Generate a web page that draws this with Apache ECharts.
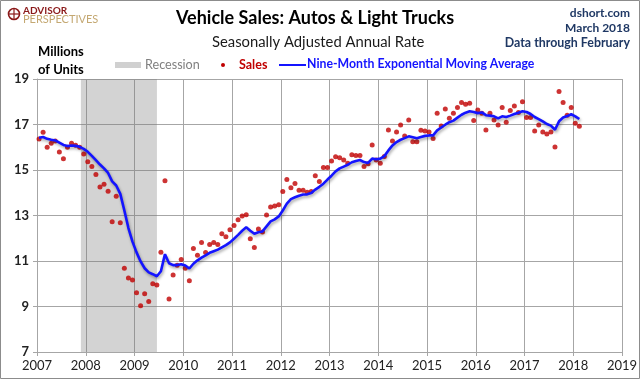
<!DOCTYPE html>
<html><head><meta charset="utf-8">
<script src="https://cdn.jsdelivr.net/npm/echarts@6/dist/echarts.min.js"></script>
<style>html,body{margin:0;padding:0;background:#fff}#c{width:640px;height:379px}</style>
</head><body><div id="c"></div>
<script>
// ---- data (monthly, Jan 2007 .. Feb 2018), millions of units SAAR ----
const startYear = 2007;
const xTicks = [2007, 2008, 2009, 2010, 2011, 2012, 2013, 2014, 2015, 2016, 2017, 2018, 2019];
const yTicks = [7, 9, 11, 13, 15, 17, 19];
const recession = [2007.9, 2009.46];

const sales = [
  16.36, 16.66, 16.0, 16.18, 16.28, 15.79, 15.5, 16.0, 16.18, 16.09, 16.0, 15.7,
  15.36, 15.15, 14.8, 14.25, 14.37, 14.07, 12.72, 13.85, 12.68, 10.68, 10.25, 10.16,
  9.6, 9.03, 9.56, 9.22, 10.0, 9.94, 11.38, 14.53, 9.33, 10.38, 10.81, 11.07,
  10.68, 10.13, 11.55, 11.25, 11.81, 11.37, 11.72, 11.81, 11.72, 12.2, 12.07, 12.37,
  12.56, 12.81, 12.98, 13.03, 11.98, 11.59, 12.41, 12.28, 13.02, 13.37, 13.42, 13.47,
  14.06, 14.58, 14.22, 14.41, 14.11, 14.11, 14.02, 14.06, 14.75, 14.5, 15.11, 15.11,
  15.4, 15.58, 15.54, 15.44, 15.3, 15.67, 15.64, 15.64, 15.15, 15.28, 16.1, 15.44,
  15.3, 15.59, 16.76, 16.28, 16.67, 16.98, 16.5, 17.2, 16.24, 16.24, 16.75, 16.71,
  16.67, 16.38, 17.49, 16.93, 17.68, 17.28, 17.49, 17.75, 17.97, 17.89, 17.93, 17.18,
  17.64, 17.49, 16.76, 17.49, 17.2, 16.98, 17.75, 17.1, 17.62, 17.81, 17.53, 18.0,
  17.31, 17.31, 16.71, 16.98, 16.67, 16.58, 16.67, 16.01, 18.45, 17.97, 17.41, 17.75,
  17.05, 16.92
];

const ema = [
  16.42, 16.45, 16.37, 16.33, 16.30, 16.2, 16.1, 16.05, 16.08, 16.06, 16.02, 15.93,
  15.8, 15.62, 15.43, 15.24, 15.07, 14.87, 14.5, 14.32, 13.95, 13.22, 12.45, 11.85,
  11.38, 10.98, 10.68, 10.5, 10.42, 10.33, 10.55, 11.3, 10.9, 10.82, 10.82, 10.86,
  10.8, 10.67, 10.88, 11.03, 11.15, 11.25, 11.36, 11.43, 11.5, 11.6, 11.7, 11.82,
  11.98, 12.15, 12.33, 12.48, 12.33, 12.2, 12.26, 12.3, 12.52, 12.74, 12.83, 12.96,
  13.22, 13.52, 13.72, 13.8, 13.87, 13.92, 13.93, 13.99, 14.14, 14.26, 14.4, 14.58,
  14.75, 14.94, 15.07, 15.15, 15.23, 15.34, 15.4, 15.44, 15.35, 15.31, 15.5, 15.47,
  15.5, 15.61, 15.86, 16.08, 16.23, 16.33, 16.4, 16.48, 16.44, 16.4, 16.45, 16.5,
  16.52, 16.52, 16.74, 16.87, 16.99, 17.1, 17.17, 17.3, 17.43, 17.52, 17.58, 17.55,
  17.5, 17.53, 17.41, 17.39, 17.36, 17.27, 17.36, 17.33, 17.39, 17.46, 17.52, 17.58,
  17.55, 17.46, 17.33, 17.24, 17.14, 17.02, 16.95, 16.77, 17.14, 17.31, 17.37, 17.45,
  17.36, 17.24
];

// month i plotted at mid-month on a fractional-year axis
const monthPos = i => startYear + (i + 0.5) / 12;
const salesData = sales.map((v, i) => [monthPos(i), v]);
const emaData = ema.map((v, i) => [monthPos(i), v]);

const FONT = 'Lato';
const gridColor = '#a6a6a6';

const chart = echarts.init(document.getElementById('c'), null, {renderer: 'canvas'});
chart.setOption({
  backgroundColor: '#ffffff',
  animation: false,
  grid: {left: 37, right: 18, top: 79, bottom: 27, containLabel: false, outerBoundsMode: 'none'},
  xAxis: {
    type: 'value', min: xTicks[0], max: xTicks[xTicks.length - 1], interval: 1,
    axisLine: {show: true, lineStyle: {color: gridColor, width: 1}},
    axisTick: {show: true, length: 4, lineStyle: {color: gridColor}},
    splitLine: {show: true, lineStyle: {color: gridColor, width: 1}},
    axisLabel: {formatter: v => String(v), color: '#222', fontSize: 13, fontFamily: FONT, margin: 7}
  },
  yAxis: {
    type: 'value', min: yTicks[0], max: yTicks[yTicks.length - 1], interval: 2,
    axisLine: {show: true, lineStyle: {color: gridColor, width: 1}},
    axisTick: {show: true, length: 4, lineStyle: {color: gridColor}},
    splitLine: {show: true, lineStyle: {color: gridColor, width: 1}},
    axisLabel: {color: '#222', fontSize: 13, fontWeight: 'bold', fontFamily: FONT, margin: 8}
  },
  series: [
    {
      name: 'Recession', type: 'line', data: [], silent: true,
      markArea: {
        silent: true,
        itemStyle: {color: 'rgba(120,120,120,0.33)'},
        data: [[{xAxis: recession[0]}, {xAxis: recession[1]}]]
      }
    },
    {
      name: 'Sales', type: 'scatter', data: salesData, symbol: 'circle', symbolSize: 5,
      itemStyle: {color: '#c00000'}, z: 3
    },
    {
      name: 'Nine-Month Exponential Moving Average', type: 'line', data: emaData,
      showSymbol: false, smooth: false, z: 4,
      lineStyle: {color: '#1414ff', width: 2.6, shadowColor: 'rgba(0,0,0,0.35)', shadowBlur: 3, shadowOffsetY: 2, shadowOffsetX: 1}
    }
  ],
  graphic: [
    {type: 'rect', shape: {x: 0.5, y: 0.5, width: 639, height: 378}, style: {fill: 'none', stroke: '#8c8c8c', lineWidth: 1}, silent: true},
    // logo
    {type: 'circle', shape: {cx: 14, cy: 14, r: 5.5}, style: {fill: 'none', stroke: '#8b1a1a', lineWidth: 1.6}},
    {type: 'line', shape: {x1: 8, y1: 14, x2: 20, y2: 14}, style: {stroke: '#8b1a1a', lineWidth: 1.2}},
    {type: 'line', shape: {x1: 14, y1: 8, x2: 14, y2: 20}, style: {stroke: '#8b1a1a', lineWidth: 1.2}},
    {type: 'text', left: 23, top: 6, style: {text: 'ADVISOR', font: 'bold 10px Lato', fill: '#8b1a1a'}},
    {type: 'text', left: 23, top: 14, style: {text: 'PERSPECTIVES', font: '11px Lato', fill: '#c4a872'}},
    // titles
    {type: 'text', left: 176, top: 9, style: {text: 'Vehicle Sales: Autos & Light Trucks', font: 'bold 18px Lato', fill: '#000'}},
    {type: 'text', left: 212, top: 35, style: {text: 'Seasonally Adjusted Annual Rate', font: '14.8px Lato', fill: '#1a1a1a'}},
    // top right
    {type: 'text', right: 10, top: 7, style: {text: 'dshort.com', font: 'bold 12px Lato', fill: '#1f3864', align: 'right'}},
    {type: 'text', right: 10, top: 22, style: {text: 'March 2018', font: 'bold 12px Lato', fill: '#1f3864', align: 'right'}},
    {type: 'text', right: 10, top: 37, style: {text: 'Data through February', font: 'bold 12.4px Lato', fill: '#1f3864', align: 'right'}},
    // y axis title
    {type: 'text', left: 38, top: 45, style: {text: 'Millions', font: 'bold 13px Lato', fill: '#000'}},
    {type: 'text', left: 38, top: 63, style: {text: 'of Units', font: 'bold 13px Lato', fill: '#000'}},
    // legend
    {type: 'rect', shape: {x: 115, y: 62, width: 26, height: 6}, style: {fill: '#d0d0d0'}},
    {type: 'text', left: 145, top: 58, style: {text: 'Recession', font: '12.6px Lato', fill: '#808080'}},
    {type: 'circle', shape: {cx: 223, cy: 65, r: 2}, style: {fill: '#c00000'}},
    {type: 'text', left: 239, top: 58, style: {text: 'Sales', font: 'bold 12.5px Lato', fill: '#c00000'}},
    {type: 'line', shape: {x1: 279, y1: 65, x2: 306, y2: 65}, style: {stroke: '#1414ff', lineWidth: 2}},
    {type: 'text', left: 307, top: 58, style: {text: 'Nine-Month Exponential Moving Average', font: 'bold 12.3px Lato', fill: '#1414ff'}}
  ]
});
</script></body></html>
